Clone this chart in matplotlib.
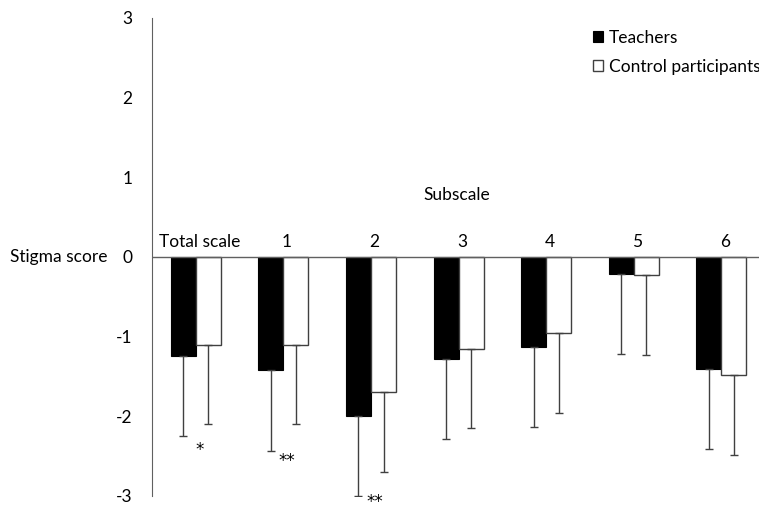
'''stigma scores: teachers vs control participants'''

import matplotlib.pyplot as plt
import numpy as np

plt.rcParams['font.family'] = ['Lato', 'DejaVu Sans']

categories = ['Total scale', '1', '2', '3', '4', '5', '6']
teachers = [-1.24, -1.42, -1.99, -1.28, -1.13, -0.21, -1.40]
controls = [-1.10, -1.10, -1.69, -1.15, -0.96, -0.22, -1.48]
teachers_sd = [1.01, 1.01, 1.01, 1.01, 1.00, 1.01, 1.01]
controls_sd = [1.00, 1.00, 1.01, 1.00, 1.00, 1.01, 1.01]
# significance marks: (group index, text, y)
stars = [(0, '*', -2.42), (1, '**', -2.56), (2, '**', -3.08)]

edge = '#404040'
fs = 12.5
x = np.arange(len(categories))
w = 0.286

fig = plt.figure(figsize=(7.59, 5.07), dpi=100)
ax = fig.add_axes([0.2, 0.0217, 0.8, 0.9428])

ax.bar(x - w / 2, teachers, w, color='black', edgecolor='black', linewidth=0.8,
       label='Teachers')
ax.bar(x + w / 2, controls, w, color='white', edgecolor=edge, linewidth=1.0,
       label='Control participants')
ax.errorbar(x - w / 2, teachers, yerr=[teachers_sd, np.zeros(len(x))],
            fmt='none', ecolor=edge, elinewidth=1.0, capsize=3, capthick=1.0)
ax.errorbar(x + w / 2, controls, yerr=[controls_sd, np.zeros(len(x))],
            fmt='none', ecolor=edge, elinewidth=1.0, capsize=3, capthick=1.0)

for i, lab in enumerate(categories):
    ax.text(x[i] + 0.04, 0.09, lab, ha='center', va='bottom', fontsize=fs)
for i, s, y in stars:
    ax.text(x[i] + 0.04, y, s, ha='center', va='center', fontsize=12,
            family='DejaVu Sans', clip_on=False)

ax.text(2.98, 0.78, 'Subscale', ha='center', va='center', fontsize=fs)
fig.text(0.013, 0.493, 'Stigma score', ha='left', va='center', fontsize=fs)

ax.set_xlim(-0.503, 6.43)
ax.set_ylim(-3, 3)
yt = [-3, -2, -1, 0, 1, 2, 3]
ax.set_yticks(yt)
ax.set_yticklabels([str(t) for t in yt])
ax.tick_params(axis='y', length=0, pad=14, labelsize=fs)
ax.set_xticks([])
for side in ['top', 'right', 'bottom']:
    ax.spines[side].set_visible(False)
ax.spines['left'].set_color('#606060')
ax.axhline(0, color='#606060', linewidth=1.0)

ax.legend(loc='upper left', bbox_to_anchor=(0.715, 0.99), frameon=False,
          fontsize=fs, handlelength=0.6, handleheight=0.6, handletextpad=0.3,
          labelspacing=0.75, borderaxespad=0)

fig.savefig('out.png', dpi=100)
